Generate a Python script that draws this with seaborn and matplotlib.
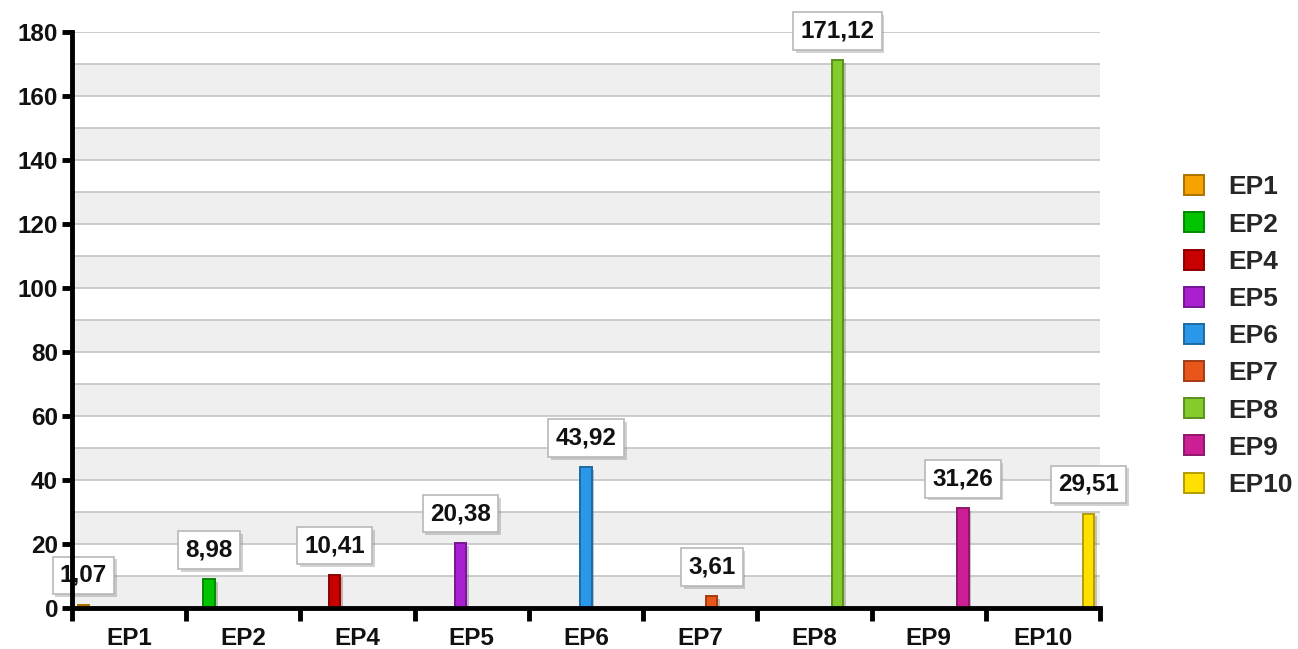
import numpy as np
import pandas as pd
import matplotlib
matplotlib.use("Agg")
import matplotlib.pyplot as plt
import seaborn as sns
from matplotlib.lines import Line2D
from matplotlib import patheffects as pe
from matplotlib.colors import to_rgb

categories = ["EP1", "EP2", "EP4", "EP5", "EP6", "EP7", "EP8", "EP9", "EP10"]
values = [1.07, 8.98, 10.41, 20.38, 43.92, 3.61, 171.12, 31.26, 29.51]
value_labels = ["1,07", "8,98", "10,41", "20,38", "43,92", "3,61", "171,12", "31,26", "29,51"]
colors = ["#f5a300", "#00c400", "#c80000", "#a820d0", "#2a97e8",
          "#e8561a", "#84cc2c", "#cc1f96", "#ffe000"]
y_ticks = [0, 20, 40, 60, 80, 100, 120, 140, 160, 180]


def darker(c, f=0.7):
    r, g, b = to_rgb(c)
    return (r * f, g * f, b * f)


sns.set_theme(style="white")
plt.rcParams["font.family"] = ["Liberation Sans", "DejaVu Sans"]
plt.rcParams["font.weight"] = "bold"

W, H = 1298, 649
fig = plt.figure(figsize=(W / 100, H / 100), dpi=100)
ax = fig.add_axes([72 / W, 1 - 608 / H, 1028 / W, 576 / H])

df = pd.DataFrame({"cat": categories, "val": values})
palette = dict(zip(categories, colors))
sns.barplot(data=df, x="cat", y="val", hue="cat", order=categories,
            hue_order=categories, palette=palette, dodge=True, width=0.9,
            saturation=1, legend=False, ax=ax, zorder=3)

# alternating background bands and grid lines
for lo in range(0, 180, 20):
    ax.axhspan(lo, lo + 10, color="#efefef", zorder=0, lw=0)
for y in range(10, 181, 10):
    ax.axhline(y, color="#c4c4c4", lw=1.2, zorder=1)

shadow = [pe.SimplePatchShadow(offset=(2, -2), alpha=0.25), pe.Normal()]

for cont, col, lbl in zip(ax.containers, colors, value_labels):
    for bar in cont:
        bar.set_edgecolor(darker(col))
        bar.set_linewidth(1.4)
        bar.set_path_effects(shadow)
        xc = bar.get_x() + bar.get_width() / 2
        h = bar.get_height()
        t = ax.annotate(lbl, xy=(xc, h), xytext=(0, 21), textcoords="offset points",
                        ha="center", va="center", fontsize=17.5, fontweight="bold",
                        color="#111111", zorder=6,
                        bbox=dict(boxstyle="square,pad=0.3", fc="white",
                                  ec="#b8b8b8", lw=1.2))
        t.get_bbox_patch().set_path_effects(shadow)

ax.set_xlim(-0.5, len(categories) - 0.5)
ax.set_ylim(0, 180)
ax.set_xlabel("")
ax.set_ylabel("")

# axes styling
for s in ["top", "right"]:
    ax.spines[s].set_visible(False)
for s in ["left", "bottom"]:
    ax.spines[s].set_linewidth(3.5)
    ax.spines[s].set_color("black")
    ax.spines[s].set_zorder(7)

ax.set_yticks(y_ticks)
ax.set_yticklabels([str(v) for v in y_ticks])
ax.tick_params(axis="y", left=True, length=7, width=3.5, labelsize=17.5,
               pad=3, colors="black", labelcolor="#111111")

ax.set_xticks(np.arange(-0.5, len(categories), 1.0))
ax.set_xticklabels([])
ax.set_xticks(np.arange(len(categories)), minor=True)
ax.set_xticklabels(categories, minor=True)
ax.tick_params(axis="x", which="major", bottom=True, length=9, width=3.5, colors="black")
ax.tick_params(axis="x", which="minor", bottom=True, length=0, labelsize=17.5,
               pad=14, labelcolor="#111111")

handles = [Line2D([], [], marker="s", linestyle="", markersize=15,
                  markerfacecolor=c, markeredgecolor=darker(c), markeredgewidth=1.4)
           for c in colors]
ax.legend(handles, categories, loc="center left", bbox_to_anchor=(1.079, 0.472),
          frameon=False, fontsize=19, handlelength=1.0, handletextpad=0.8,
          labelspacing=0.5, borderpad=0, borderaxespad=0)

fig.savefig("out.png", dpi=100)
